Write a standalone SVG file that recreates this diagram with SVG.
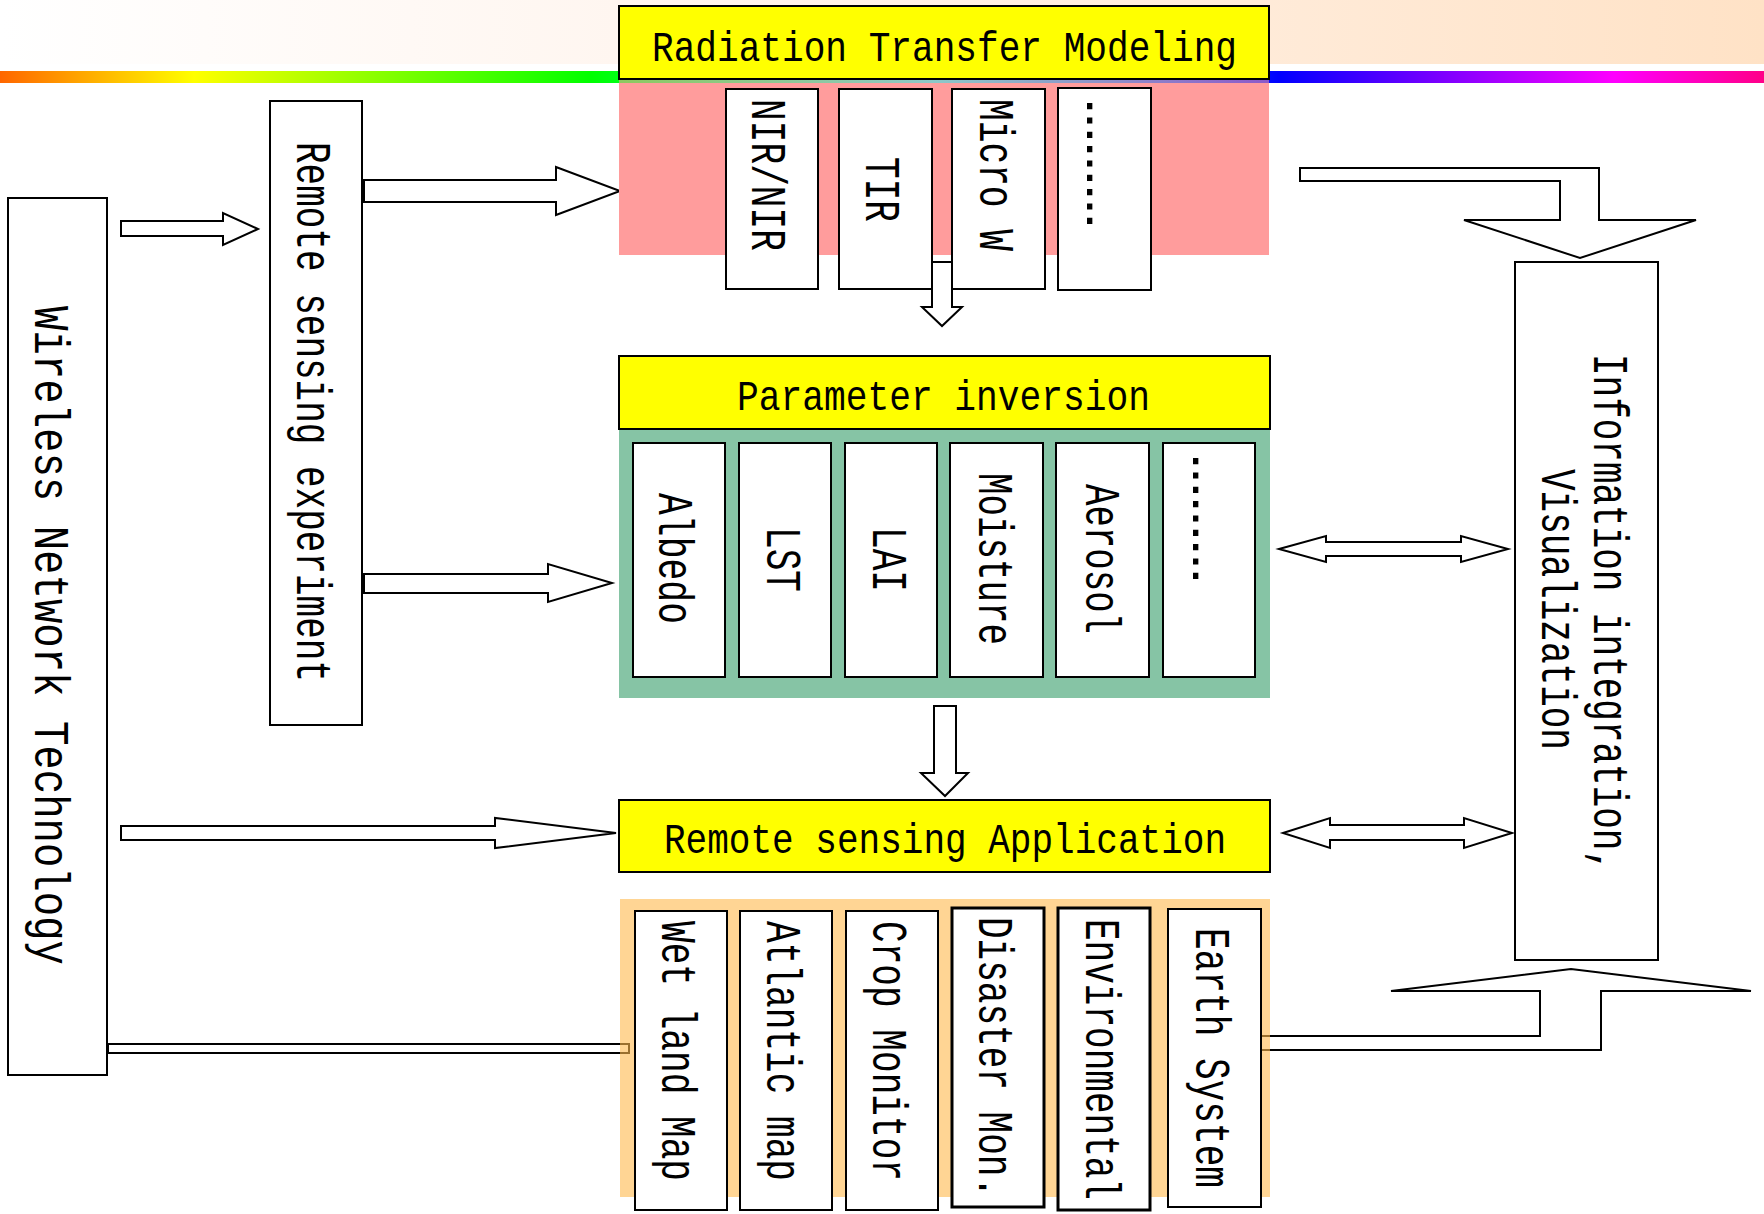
<svg xmlns="http://www.w3.org/2000/svg" width="1764" height="1214" viewBox="0 0 1764 1214">
<defs>
<linearGradient id="bandGrad" x1="0" y1="0" x2="1" y2="0">
<stop offset="0" stop-color="#FFFFFF"/>
<stop offset="0.35" stop-color="#FFF6F0"/>
<stop offset="1" stop-color="#FFE2C6"/>
</linearGradient>
<linearGradient id="rainbow" gradientUnits="userSpaceOnUse" x1="0" y1="0" x2="1764" y2="0">
<stop offset="0" stop-color="#FF6600"/>
<stop offset="0.11" stop-color="#FFFF00"/>
<stop offset="0.335" stop-color="#00FF00"/>
<stop offset="0.53" stop-color="#00FFFF"/>
<stop offset="0.725" stop-color="#0000FF"/>
<stop offset="0.82" stop-color="#8000FF"/>
<stop offset="0.915" stop-color="#FF00FF"/>
<stop offset="1" stop-color="#FF0088"/>
</linearGradient>
<style>
.box{fill:#FFFFFF;stroke:#000;stroke-width:2}
.thick{stroke-width:3}
.ybox{fill:#FFFF00;stroke:#000;stroke-width:2}
.arrow{fill:#FFFFFF;stroke:#000;stroke-width:2;stroke-linejoin:miter}
.title{font-family:"Liberation Mono","DejaVu Sans Mono",monospace;font-size:42px;fill:#000}
.vl{font-family:"Liberation Mono","DejaVu Sans Mono",monospace;font-size:50px;fill:#000}
</style>
</defs>

<g id="background">
<rect x="0" y="0" width="1764" height="64" fill="url(#bandGrad)"/>
<rect x="0" y="71" width="1764" height="12" fill="url(#rainbow)"/>
</g>

<g id="connectors">
<polygon class="arrow" points="121,221 223,221 223,213 258,229 223,245 223,236 121,236"/>
<polygon class="arrow" points="364,180 556,180 556,167 620,191 556,215 556,202 364,202"/>
<polygon class="arrow" points="364,574 548,574 548,564 612,583 548,602 548,593 364,593"/>
<polygon class="arrow" points="121,826 495,826 495,818 616,833 495,848 495,840 121,840"/>
<rect class="arrow" x="108" y="1044" width="521" height="9"/>
<polygon class="arrow" points="932,262 952,262 952,307 962,307 942,326 922,307 932,307"/>
<polygon class="arrow" points="934,706 956,706 956,773 968,773 945,796 921,773 934,773"/>
<polygon class="arrow" points="1300,168 1599,168 1599,220 1696,220 1580,258 1464,220 1560,220 1560,181 1300,181"/>
<polygon class="arrow" points="1279,549 1326,536 1326,542 1461,542 1461,536 1508,549 1461,562 1461,556 1326,556 1326,562"/>
<polygon class="arrow" points="1283,833 1330,818 1330,825 1464,825 1464,818 1512,833 1464,848 1464,840 1330,840 1330,848"/>
<polygon class="arrow" points="1261,1036 1540,1036 1540,991 1391,991 1571,969 1751,991 1601,991 1601,1050 1261,1050"/>
</g>

<g id="wireless">
<rect class="box" x="8" y="198" width="99" height="877"/>
<text class="vl" transform="translate(35,306) rotate(90)" textLength="659" lengthAdjust="spacingAndGlyphs">Wireless Network Technology</text>
</g>

<g id="rs-experiment">
<rect class="box" x="270" y="101" width="92" height="624"/>
<text class="vl" transform="translate(297,142) rotate(90)" textLength="540" lengthAdjust="spacingAndGlyphs">Remote sensing experiment</text>
</g>

<g id="radiation-transfer">
<rect x="619" y="79" width="650" height="176" fill="#FF9C9C"/>
<rect x="619" y="79" width="650" height="4" fill="url(#rainbow)" opacity="0.45"/>
<rect class="ybox" x="619" y="6" width="650" height="73"/>
<text class="title" x="652" y="61" textLength="585" lengthAdjust="spacingAndGlyphs">Radiation Transfer Modeling</text>
<g id="nir">
<rect class="box" x="726" y="89" width="92" height="200"/>
<text class="vl" transform="translate(752,99) rotate(90)" textLength="152" lengthAdjust="spacingAndGlyphs">NIR/NIR</text>
</g>
<g id="tir">
<rect class="box" x="839" y="89" width="93" height="200"/>
<text class="vl" transform="translate(866,157) rotate(90)" textLength="65" lengthAdjust="spacingAndGlyphs">TIR</text>
</g>
<g id="microw">
<rect class="box" x="952" y="89" width="93" height="200"/>
<text class="vl" transform="translate(980,99) rotate(90)" textLength="152" lengthAdjust="spacingAndGlyphs">Micro W</text>
</g>
<g id="rt-more">
<rect class="box" x="1058" y="88" width="93" height="202"/>
<text class="vl" transform="translate(1087,99) rotate(90)" textLength="129" lengthAdjust="spacingAndGlyphs">………</text>
</g>
</g>

<g id="parameter-inversion">
<rect x="619" y="429" width="651" height="269" fill="#86C4A5"/>
<rect class="ybox" x="619" y="356" width="651" height="73"/>
<text class="title" x="737" y="410" textLength="413" lengthAdjust="spacingAndGlyphs">Parameter inversion</text>
<g id="albedo">
<rect class="box" x="633" y="443" width="92" height="234"/>
<text class="vl" transform="translate(659,493) rotate(90)" textLength="131" lengthAdjust="spacingAndGlyphs">Albedo</text>
</g>
<g id="lst">
<rect class="box" x="739" y="443" width="92" height="234"/>
<text class="vl" transform="translate(767,527) rotate(90)" textLength="65" lengthAdjust="spacingAndGlyphs">LST</text>
</g>
<g id="lai">
<rect class="box" x="845" y="443" width="92" height="234"/>
<text class="vl" transform="translate(873,527) rotate(90)" textLength="65" lengthAdjust="spacingAndGlyphs">LAI</text>
</g>
<g id="moisture">
<rect class="box" x="950" y="443" width="93" height="234"/>
<text class="vl" transform="translate(979,473) rotate(90)" textLength="172" lengthAdjust="spacingAndGlyphs">Moisture</text>
</g>
<g id="aerosol">
<rect class="box" x="1056" y="443" width="93" height="234"/>
<text class="vl" transform="translate(1086,484) rotate(90)" textLength="150" lengthAdjust="spacingAndGlyphs">Aerosol</text>
</g>
<g id="pi-more">
<rect class="box" x="1163" y="443" width="92" height="234"/>
<text class="vl" transform="translate(1193,454) rotate(90)" textLength="129" lengthAdjust="spacingAndGlyphs">………</text>
</g>
</g>

<g id="rs-application">
<rect class="ybox" x="619" y="800" width="651" height="72"/>
<text class="title" x="664" y="853" textLength="562" lengthAdjust="spacingAndGlyphs">Remote sensing Application</text>
<rect x="620" y="899" width="650" height="298" fill="#FFB94D" fill-opacity="0.6"/>
<g id="wetland">
<rect class="box" x="635" y="911" width="92" height="299"/>
<text class="vl" transform="translate(662,921) rotate(90)" textLength="260" lengthAdjust="spacingAndGlyphs">Wet land Map</text>
</g>
<g id="atlantic">
<rect class="box" x="740" y="911" width="92" height="299"/>
<text class="vl" transform="translate(767,921) rotate(90)" textLength="260" lengthAdjust="spacingAndGlyphs">Atlantic map</text>
</g>
<g id="crop">
<rect class="box" x="846" y="911" width="92" height="299"/>
<text class="vl" transform="translate(873,921) rotate(90)" textLength="260" lengthAdjust="spacingAndGlyphs">Crop Monitor</text>
</g>
<g id="disaster">
<rect class="box thick" x="952" y="908" width="92" height="299"/>
<text class="vl" transform="translate(979,917) rotate(90)" textLength="281" lengthAdjust="spacingAndGlyphs">Disaster Mon.</text>
</g>
<g id="environmental">
<rect class="box thick" x="1058" y="908" width="92" height="302"/>
<text class="vl" transform="translate(1086,919) rotate(90)" textLength="281" lengthAdjust="spacingAndGlyphs">Environmental</text>
</g>
<g id="earth">
<rect class="box" x="1168" y="909" width="93" height="298"/>
<text class="vl" transform="translate(1196,928) rotate(90)" textLength="260" lengthAdjust="spacingAndGlyphs">Earth System</text>
</g>
</g>

<g id="info-integration">
<rect class="box" x="1515" y="262" width="143" height="698"/>
<text class="vl" transform="translate(1594,354) rotate(90)" textLength="518" lengthAdjust="spacingAndGlyphs">Information integration,</text>
<text class="vl" transform="translate(1542,469) rotate(90)" textLength="281" lengthAdjust="spacingAndGlyphs">Visualization</text>
</g>
</svg>
